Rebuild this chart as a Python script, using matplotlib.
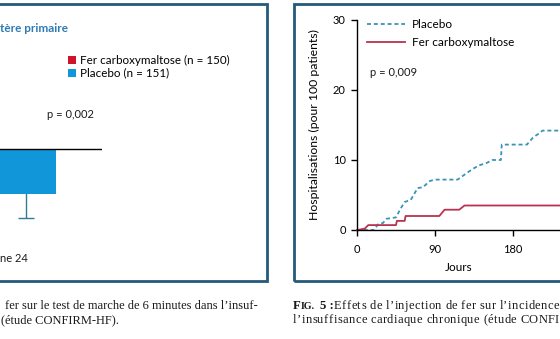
import matplotlib
matplotlib.use("Agg")
import matplotlib.pyplot as plt
from matplotlib.patches import Rectangle

# data -------------------------------------------------------------
# left panel: change in 6-minute walk distance at week 24 (m)
groups = ["Fer carboxymaltose (n = 150)", "Placebo (n = 151)"]
walk_change = [16.6, -16.6]
walk_err = [8.1, 8.9]
p_walk = "p = 0,002"

# right panel: cumulative hospitalisations (per 100 patients)
placebo_days = [0, 20, 24, 30, 34, 45, 50, 55, 62, 70, 76, 84, 90, 116, 124,
                132, 140, 150, 156, 166, 167, 196, 203, 210, 214, 234]
placebo_hosp = [0, 0, 0.8, 1.0, 1.6, 1.8, 3.0, 4.0, 4.3, 6.0, 6.1, 7.0, 7.2,
                7.2, 7.9, 8.6, 9.2, 9.6, 10.0, 10.0, 12.2, 12.2, 13.2, 13.8,
                14.2, 14.2]
fcm_days = [0, 5, 9, 13, 45, 46, 55, 56, 95, 101, 118, 124, 234]
fcm_hosp = [0, 0.1, 0.2, 0.7, 0.7, 1.3, 1.3, 2.0, 2.0, 2.9, 2.9, 3.5, 3.5]
day_ticks = [0, 90, 180]
hosp_ticks = [0, 10, 20, 30]
p_hosp = "p = 0,009"

# style ------------------------------------------------------------
W, H = 560, 339
sans = ["Lato", "DejaVu Sans"]
serif = ["Liberation Serif", "DejaVu Serif"]
box_col = "#245a7a"
red = "#d0142c"
blue = "#1197d9"
line_red = "#b93350"
line_blue = "#3b93b6"
ink = "#1a1a1a"


def fx(x):
    return x / W


def fy(y):
    return 1 - y / H


fig = plt.figure(figsize=(W / 100, H / 100), dpi=100)
fig.patch.set_facecolor("white")
renderer = fig.canvas.get_renderer()


def text_width(s, **kw):
    t = fig.text(0, 0, s, **kw)
    w = t.get_window_extent(renderer).width
    t.remove()
    return w


def tracked(line, x0, x1, y, **kw):
    # letter-spaced caption line running from x0 to x1 (pixels)
    base = text_width("xx", **kw)
    adv = [text_width("x" + c + "x", **kw) - base for c in line]
    extra = (x1 - x0 - sum(adv[:-1]) - adv[-1]) / (len(line) - 1)
    x = x0
    for c, a in zip(line, adv):
        if c != " ":
            fig.text(fx(x), fy(y), c, **kw)
        x += a + extra


# frames around the two figures
fig.patches.append(Rectangle((fx(-10), fy(281)), fx(277), (281 - 4) / H,
                             transform=fig.transFigure, fill=False,
                             ec=box_col, lw=2.0))
fig.patches.append(Rectangle((fx(294), fy(281)), fx(300), (281 - 4) / H,
                             transform=fig.transFigure, fill=False,
                             ec=box_col, lw=2.0))

# left panel -------------------------------------------------------
# bar spacing 110 px, zero line at y=149, 2.71 px per metre
axl = fig.add_axes([fx(-139), fy(240), (102 + 139) / W, (240 - 100) / H])
axl.set_xlim(-0.5, 1.69)
axl.set_ylim(-(240 - 149) / 2.71, (149 - 100) / 2.71)
bars = axl.bar([0, 1], walk_change, width=0.545, color=[red, blue],
               zorder=2)
# error bar sits behind the bar so only the lower whisker shows
axl.errorbar([1], [walk_change[1]], yerr=[walk_err[1]], fmt="none",
             ecolor="#2f7d98", elinewidth=1, capsize=5.5, capthick=1,
             zorder=1)
axl.axhline(0, color="black", lw=1, zorder=3)
axl.axis("off")
axl.legend(bars, groups, loc="upper left",
           bbox_to_anchor=(fx(68), fy(55)), bbox_transform=fig.transFigure,
           frameon=False, handlelength=0.7, handleheight=0.7,
           handletextpad=0.35, labelspacing=0.15, borderpad=0,
           borderaxespad=0, prop={"family": sans, "size": 8.4})

fig.text(fx(0), fy(28), "tère primaire", family=sans, weight="bold",
         size=8.5, color="#2e7bb3", va="center", ha="left")
fig.text(fx(47), fy(115), p_walk, family=sans, size=8, va="center",
         ha="left", color=ink)
fig.text(fx(0), fy(258), "ne 24", family=sans, size=8, va="center",
         ha="left", color=ink)

# right panel ------------------------------------------------------
ax = fig.add_axes([fx(357), fy(230), (560 - 357) / W, (230 - 20) / H])
ax.plot(placebo_days, placebo_hosp, color=line_blue, lw=1.3,
        ls=(0, (2.2, 1.6)), label="Placebo", clip_on=False)
ax.plot(fcm_days, fcm_hosp, color=line_red, lw=1.3,
        label="Fer carboxymaltose", clip_on=False)
ax.set_xlim(0, 234.2)
ax.set_ylim(0, 30)
ax.set_xticks(day_ticks)
ax.set_yticks(hosp_ticks)
for s in ["top", "right"]:
    ax.spines[s].set_visible(False)
for s in ["left", "bottom"]:
    ax.spines[s].set_linewidth(1)
ax.tick_params(axis="x", length=4, width=1, pad=6, labelsize=8)
ax.tick_params(axis="y", length=4, width=1, pad=4, labelsize=8)
for lab in ax.get_xticklabels() + ax.get_yticklabels():
    lab.set_family(sans)
ax.set_xlabel("Jours", family=sans, size=8.5, labelpad=5)
ax.set_ylabel("Hospitalisations (pour 100 patients)", family=sans,
              size=8.8, labelpad=9)
ax.legend(loc="upper left", bbox_to_anchor=(fx(367), fy(19)),
          bbox_transform=fig.transFigure, frameon=False, handlelength=3.2,
          handletextpad=0.6, labelspacing=0.6, borderpad=0,
          borderaxespad=0, prop={"family": sans, "size": 8.5})
fig.text(fx(370), fy(72), p_hosp, family=sans, size=8, va="center",
         ha="left", color=ink)

# captions ---------------------------------------------------------
cap = dict(family=serif, size=9.0, va="center", ha="left", color=ink)
fig.text(fx(5), fy(306),
         "fer sur le test de marche de 6 minutes dans l\u2019insuf-", **cap)
fig.text(fx(1), fy(320), "(\u00e9tude CONFIRM-HF).", **cap)
fig.text(fx(293), fy(306), "F", family=serif, size=9.2, weight="bold",
         va="center", ha="left", color=ink)
fig.text(fx(300.5), fy(306.7), "IG.", family=serif, size=7.2,
         weight="bold", va="center", ha="left", color=ink)
fig.text(fx(320), fy(306), "5 :", family=serif, size=9.2, weight="bold",
         va="center", ha="left", color=ink)
tracked("Effets de l\u2019injection de fer sur l\u2019incidence",
        334, 559, 306, **cap)
tracked("l\u2019insuffisance cardiaque chronique (\u00e9tude CONFI",
        293, 559, 320, **cap)

fig.savefig("out.png", dpi=100)
